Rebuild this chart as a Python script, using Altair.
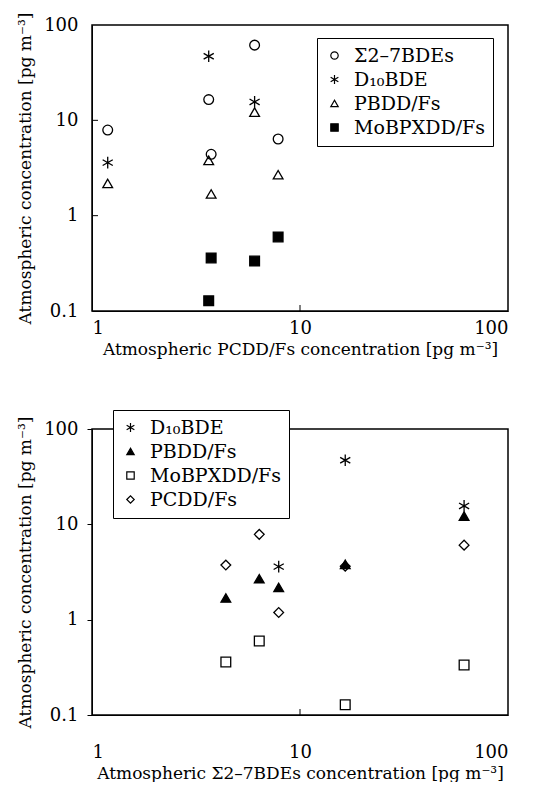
import altair as alt
import pandas as pd

# Five sampling sites
pcdd = [1.19, 3.64, 3.74, 6.05, 7.85]        # PCDD/Fs
bde = [7.9, 16.5, 4.4, 61.5, 6.37]           # Σ2–7BDEs
d10 = [3.6, 47.0, None, 15.6, None]          # D10BDE
pbdd = [2.18, 3.8, 1.69, 12.2, 2.69]         # PBDD/Fs
mobpx = [None, 0.128, 0.36, 0.334, 0.598]    # MoBPXDD/Fs

x_ticks = [1, 10, 100]
y_ticks = [0.1, 1, 10, 100]
inner_y = [1, 10]
inner_x = [10]

S_BDE = "Σ2–7BDEs"
S_D10 = "D₁₀BDE"
S_PBDD = "PBDD/Fs"
S_MO = "MoBPXDD/Fs"
S_PCDD = "PCDD/Fs"

ASTER = "M0,-1.2L0,1.2M-1.04,-0.6L1.04,0.6M-1.04,0.6L1.04,-0.6"

FONT = "DejaVu Serif"


def long_df(xs, series):
    rows = []
    for name, ys in series:
        for xv, yv in zip(xs, ys):
            if yv is not None:
                rows.append({"x": xv, "y": yv, "s": name})
    return pd.DataFrame(rows)


top_df = long_df(pcdd, [(S_BDE, bde), (S_D10, d10), (S_PBDD, pbdd), (S_MO, mobpx)])
bot_df = long_df(bde, [(S_D10, d10), (S_PBDD, pbdd), (S_MO, mobpx), (S_PCDD, pcdd)])

W, H = 416, 286


def panel(df, xtitle, dom, shapes, fills, legx, legy, xlabpad, ytick):
    xs = alt.Scale(type="log", domain=[1, 100], nice=False)
    ys = alt.Scale(type="log", domain=[0.1, 100], nice=False)
    legend = alt.Legend(
        title=None, orient="none", legendX=legx, legendY=legy,
        direction="vertical", fillColor="white", strokeColor="black",
        padding=8, rowPadding=4, labelFont=FONT, labelFontSize=19,
        labelColor="black", symbolSize=55, symbolStrokeColor="black",
        symbolStrokeWidth=1.2, labelOffset=10, labelLimit=300,
    )
    pts = alt.Chart(df).mark_point(filled=False, opacity=1, size=95, strokeWidth=1.3).encode(
        x=alt.X("x:Q", scale=xs, title=xtitle,
                axis=alt.Axis(values=x_ticks, format="~g", tickSize=0,
                              labelPadding=xlabpad, titlePadding=4)),
        y=alt.Y("y:Q", scale=ys, title="Atmospheric concentration [pg m⁻³]",
                axis=alt.Axis(values=y_ticks, format="~g", tickSize=ytick,
                              labelPadding=14 - ytick, titlePadding=9)),
        shape=alt.Shape("s:N", scale=alt.Scale(domain=dom, range=shapes), legend=legend),
        fill=alt.Fill("s:N", scale=alt.Scale(domain=dom, range=fills), legend=legend),
        stroke=alt.Stroke("s:N", scale=alt.Scale(domain=dom, range=["black"] * 4), legend=legend),
    )
    ty = alt.Chart(pd.DataFrame({"v": inner_y})).mark_rule(color="black", strokeWidth=1).encode(
        y=alt.Y("v:Q", scale=ys), x=alt.value(0), x2=alt.value(6))
    tx = alt.Chart(pd.DataFrame({"v": inner_x})).mark_rule(color="black", strokeWidth=1).encode(
        x=alt.X("v:Q", scale=xs), y=alt.value(H), y2=alt.value(H - 6))
    layers = [ty, tx, pts] if ytick == 0 else [tx, pts]
    return alt.layer(*layers).properties(width=W, height=H)


top = panel(
    top_df, "Atmospheric PCDD/Fs concentration [pg m⁻³]",
    [S_BDE, S_D10, S_PBDD, S_MO],
    ["circle", ASTER, "triangle-up", "square"],
    ["transparent", "transparent", "transparent", "black"],
    225, 13, 8, 0,
)
bot = panel(
    bot_df, "Atmospheric Σ2–7BDEs concentration [pg m⁻³]",
    [S_D10, S_PBDD, S_MO, S_PCDD],
    [ASTER, "triangle-up", "square", "diamond"],
    ["transparent", "black", "transparent", "transparent"],
    21, -19, 28, 5,
)

chart = alt.vconcat(top, bot, spacing=50).resolve_scale(
    shape="independent", fill="independent", stroke="independent",
    x="independent", y="independent"
).properties(
    padding={"left": 7, "top": 3, "right": 0, "bottom": 0},
    background="white",
).configure_view(
    stroke="black", strokeWidth=1.5
).configure_axis(
    grid=False, labelFont=FONT, labelFontSize=18, labelColor="black",
    titleFont=FONT, titleFontSize=17, titleFontWeight="normal", titleColor="black",
    domainColor="black", tickColor="black",
)

chart.save("out.html", embed_options={"renderer": "svg", "actions": False})
